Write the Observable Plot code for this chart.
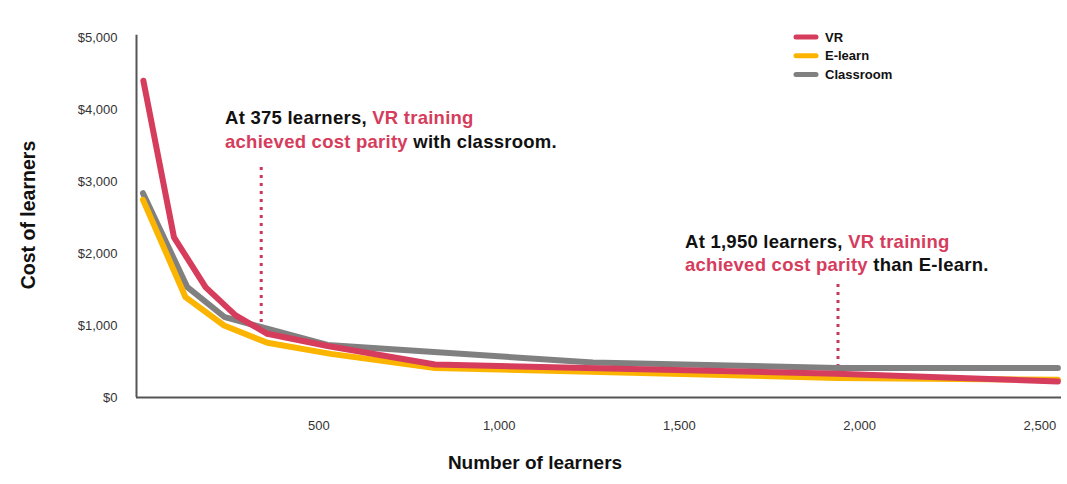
<!DOCTYPE html>
<html><head><meta charset="utf-8">
<script src="https://cdn.jsdelivr.net/npm/d3@7"></script>
<script src="https://cdn.jsdelivr.net/npm/@observablehq/plot@0.6"></script>
<style>
body{margin:0;background:#fff;font-family:"Liberation Sans",Arial,sans-serif}
#chart svg{display:block}
</style>
</head><body><div id="chart"></div>
<script>
// ---- data ----
const seriesNames = ["Classroom", "E-learn", "VR"];
const seriesColors = ["#808080", "#fbb400", "#d63c5c"];
const legendOrder = ["VR", "E-learn", "Classroom"];

const vrX = [13, 98, 186, 269, 357, 524, 822, 1938, 2550];
const vrY = [4400, 2225, 1530, 1140, 885, 715, 458, 330, 222];

const elearnX = [12, 130, 237, 357, 533, 822, 1938, 2550];
const elearnY = [2745, 1393, 1000, 760, 606, 410, 272, 246];

const classX = [12, 135, 239, 524, 1260, 1938, 2550];
const classY = [2837, 1532, 1115, 730, 486, 410, 410];

const xTicks = [500, 1000, 1500, 2000, 2500];
const yTicks = [0, 1000, 2000, 3000, 4000, 5000];
const xDomain = [-6, 2560];
const yDomain = [0, 5000];

// parity markers (dotted lines)
const parityX = [340, 1940];
const parityTop = [3264, 1625];
const parityBottom = [1042, 417];

// annotations: anchor position + two lines of [text, isHighlight] segments
const annoX = [241, 1517];
const annoY = [3790, 2070];
const annoLines = [
  [[["At 375 learners, ", false], ["VR training", true]],
   [["achieved cost parity", true], [" with classroom.", false]]],
  [[["At 1,950 learners, ", false], ["VR training", true]],
   [["achieved cost parity", true], [" than E-learn.", false]]]
];

const xTitle = "Number of learners";
const yTitle = "Cost of learners";

// ---- build table ----
const rows = [];
classX.forEach((x, i) => rows.push({series: "Classroom", x, y: classY[i]}));
elearnX.forEach((x, i) => rows.push({series: "E-learn", x, y: elearnY[i]}));
vrX.forEach((x, i) => rows.push({series: "VR", x, y: vrY[i]}));
const parity = parityX.map((x, i) => ({x, y1: parityBottom[i], y2: parityTop[i]}));

const colorOf = Object.fromEntries(seriesNames.map((s, i) => [s, seriesColors[i]]));
const FONT = "Liberation Sans, Arial, Helvetica, sans-serif";
const HIGHLIGHT = "#d63c5c";

function overlay(index, scales, values, dimensions) {
  const sx = scales.x, sy = scales.y;
  const g = d3.create("svg:g").attr("font-family", FONT).attr("text-anchor", "start");
  // annotations
  annoLines.forEach((lines, k) => {
    const t = g.append("text")
      .attr("x", sx(annoX[k])).attr("y", sy(annoY[k]))
      .attr("text-anchor", "start")
      .attr("font-size", 18.5).attr("font-weight", "bold")
      .attr("letter-spacing", 0.25);
    lines.forEach((segs, li) => {
      segs.forEach(([txt, hi], si) => {
        const ts = t.append("tspan").text(txt).attr("fill", hi ? HIGHLIGHT : "#111");
        if (si === 0) ts.attr("x", sx(annoX[k])).attr("dy", li === 0 ? 0 : 23.5);
      });
    });
    t.style("white-space", "pre");
  });
  // legend
  legendOrder.forEach((s, i) => {
    const yy = 37 + i * 18.8;
    g.append("line").attr("x1", 796).attr("x2", 816).attr("y1", yy).attr("y2", yy)
      .attr("stroke", colorOf[s]).attr("stroke-width", 5).attr("stroke-linecap", "round");
    g.append("text").attr("x", 825).attr("y", yy).attr("dy", "0.35em")
      .attr("text-anchor", "start")
      .attr("font-size", 13).attr("font-weight", "bold").attr("fill", "#111").text(s);
  });
  // axis titles
  g.append("text").attr("transform", "translate(28,215) rotate(-90)")
    .attr("text-anchor", "middle").attr("dy", "0.35em")
    .attr("font-size", 19.5).attr("font-weight", "bold").attr("fill", "#111").text(yTitle);
  g.append("text").attr("x", 535).attr("y", 462)
    .attr("text-anchor", "middle").attr("dy", "0.35em")
    .attr("font-size", 19).attr("font-weight", "bold").attr("fill", "#111").text(xTitle);
  return g.node();
}

const chart = Plot.plot({
  width: 1067, height: 484,
  marginLeft: 136, marginRight: 6, marginTop: 37, marginBottom: 87,
  x: {domain: xDomain},
  y: {domain: yDomain},
  style: {fontFamily: FONT, fontSize: "13px", color: "#333", background: "white"},
  marks: [
    Plot.axisY({ticks: yTicks, tickFormat: d => "$" + d3.format(",")(d), tickSize: 0, tickPadding: 19, label: null, fontSize: 13}),
    Plot.axisX({ticks: xTicks, tickFormat: d3.format(","), tickSize: 0, tickPadding: 23, label: null, fontSize: 13}),
    Plot.ruleY([0], {stroke: "#555", strokeWidth: 2}),
    Plot.ruleX([xDomain[0]], {y1: 0, y2: 5030, stroke: "#555", strokeWidth: 2}),
    Plot.ruleX(parity, {x: "x", y1: "y1", y2: "y2", stroke: "#c8385a", strokeWidth: 3, strokeDasharray: "3,5"}),
    ...seriesNames.map(s => Plot.line(rows.filter(r => r.series === s), {
      x: "x", y: "y", stroke: colorOf[s], strokeWidth: 6, strokeLinejoin: "round", strokeLinecap: "round"
    })),
    overlay
  ]
});
document.getElementById("chart").append(chart);
</script>
</body></html>
